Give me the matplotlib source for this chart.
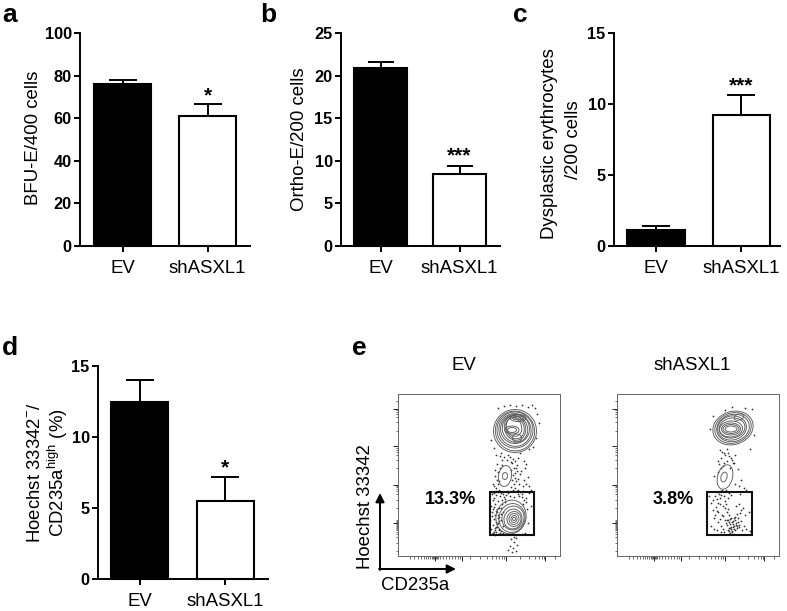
import matplotlib
matplotlib.use('Agg')
import matplotlib.pyplot as plt
from matplotlib.patches import Ellipse, Rectangle

plt.rcParams['font.family'] = ['Liberation Sans', 'DejaVu Sans']
plt.rcParams['mathtext.fontset'] = 'custom'
plt.rcParams['mathtext.rm'] = 'Liberation Sans'

W, H = 787, 611

groups = ['EV', 'shASXL1']

# bar panels
a_vals = [76, 61]
a_errs = [2, 5.7]
a_ticks = [0, 20, 40, 60, 80, 100]
b_vals = [20.9, 8.5]
b_errs = [0.75, 0.9]
b_ticks = [0, 5, 10, 15, 20, 25]
c_vals = [1.1, 9.2]
c_errs = [0.3, 1.4]
c_ticks = [0, 5, 10, 15]
d_vals = [12.5, 5.5]
d_errs = [1.5, 1.65]
d_ticks = [0, 5, 10, 15]

# flow plots: contours are (x, y, width, height, angle) in channel units
ev_rings = [
    (117, 125, 43, 43, 30), (117, 125, 39, 40, 30), (117, 126, 36, 36, 30),
    (117, 126, 32, 33, 30), (117, 127, 29, 29, 30), (117, 127, 25, 27, 30),
    (117, 128, 21, 25, 20), (117, 128, 18, 22, 20), (116, 129, 15, 19, 20),
    (120, 138, 16, 7, 0), (120, 138, 11, 4, 0), (114, 126, 14, 8, 0),
    (114, 126, 9, 5, 0), (119, 118, 9, 8, 0),
    (107, 80, 13, 21, -8), (107, 80, 5, 7, -8),
    (113, 39, 30, 34, -15), (114, 38, 26, 29, -15), (115, 38, 22, 24, -15),
    (115, 37, 18, 20, -15), (116, 37, 14, 15, -15), (116, 37, 10, 11, -15),
    (116, 37, 6, 7, -15), (116, 37, 3, 3, 0),
]
sh_rings = [
    (116, 128, 41, 33, 18), (116, 128, 37, 30, 18), (116, 128, 33, 27, 15),
    (115, 128, 29, 24, 12), (115, 128, 26, 20, 10), (114, 127, 23, 16, 5),
    (114, 127, 19, 12, 0), (114, 127, 16, 9, 0), (114, 127, 12, 6, 0),
    (122, 139, 10, 6, 20),
    (108, 79, 15, 25, -15), (107, 79, 6, 10, -15),
]
ev_dots_x = [100, 106, 112, 118, 124, 130, 134, 137, 139, 141, 138, 135, 131, 96, 93, 98, 102,
             104, 110, 115, 122, 128, 99, 97, 101, 96, 113, 118, 123, 126, 130, 133, 100, 117, 121, 127, 120, 125,
             94, 96, 98, 100, 102, 104, 93, 95, 97, 99, 101, 103, 94, 96, 98, 100, 95, 97, 99, 101, 93, 96, 99, 102, 94, 97,
             105, 107, 110, 93, 95, 98, 101, 105, 124, 128, 131, 133, 121, 130, 127,
             113, 118, 116, 112, 115, 119, 110, 114, 118, 116]
ev_dots_y = [148, 150, 151, 150, 151, 149, 151, 148, 142, 133, 118, 109, 107, 108, 116, 101, 100,
             96, 101, 97, 103, 92, 92, 86, 75, 70, 94, 88, 85, 95, 79, 66, 64, 78, 72, 88, 66, 70,
             62, 58, 61, 55, 60, 52, 50, 47, 52, 44, 48, 42, 40, 37, 34, 38, 31, 28, 32, 26, 27, 24, 29, 23, 22, 21,
             62, 57, 63, 64, 56, 45, 35, 30, 62, 58, 63, 50, 60, 33, 23,
             17, 18, 14, 10, 8, 11, 6, 4, 5, 19]
ev_more = [(103, 103), (106, 99), (109, 96), (112, 99), (114, 93), (117, 95), (120, 98), (119, 91), (116, 88),
           (113, 86), (115, 81), (117, 83), (119, 85), (122, 82), (114, 76), (116, 72), (118, 75), (120, 77),
           (113, 69), (115, 66), (117, 68), (119, 65), (97, 80), (99, 76), (100, 72), (98, 68), (101, 66),
           (103, 63), (100, 84), (102, 88), (104, 91), (95, 72), (96, 63), (98, 65), (126, 76), (128, 72),
           (131, 70), (125, 65), (122, 64), (110, 65), (108, 61), (106, 59), (104, 56), (107, 54), (103, 48),
           (105, 44), (101, 39), (103, 36), (100, 33), (98, 29), (101, 27), (103, 25), (97, 26), (95, 23),
           (98, 24), (100, 22), (102, 22), (105, 23), (92, 36), (94, 44), (96, 49), (97, 41), (99, 47), (100, 41),
           (126, 56), (128, 54), (125, 52), (129, 47), (112, 60), (116, 59), (120, 62), (124, 59), (118, 21), (124, 22)]
sh_dots_x = [108, 115, 128, 135, 96, 93, 137, 133, 103, 107, 110, 104, 112, 115, 118, 102, 106, 113, 116, 121, 97, 101,
             118, 122, 124, 127, 123, 129, 98, 96, 94, 102, 100, 104, 108, 106, 96, 99, 103, 101, 92, 105,
             108, 110, 112, 114, 116, 118, 120, 110, 112, 114, 116, 118, 120, 111, 113, 115, 117, 119, 108, 104, 106,
             122, 124, 126, 119, 121, 124, 128, 132, 101, 104, 97, 94, 113, 117, 122, 107, 110, 125, 133, 97, 100]
sh_dots_y = [146, 149, 148, 147, 140, 127, 121, 107, 106, 103, 107, 98, 100, 96, 101, 92, 90, 88, 93, 87, 80, 84,
             72, 70, 76, 68, 62, 66, 60, 56, 53, 62, 57, 61, 55, 50, 46, 49, 52, 44, 60, 41,
             48, 44, 41, 38, 35, 39, 42, 31, 34, 29, 32, 36, 30, 26, 28, 25, 27, 33, 36, 30, 27,
             52, 46, 48, 50, 38, 35, 41, 44, 34, 24, 27, 30, 23, 22, 29, 24, 36, 26, 25, 38, 26]
sh_more = [(105, 104), (108, 101), (111, 103), (114, 98), (117, 93), (110, 95), (107, 93), (104, 88), (101, 95),
           (109, 66), (112, 63), (105, 66), (103, 65), (100, 64), (114, 61), (111, 58), (107, 60), (103, 58),
           (113, 32), (115, 34), (117, 30), (119, 31), (112, 28), (114, 27), (116, 29), (118, 26), (120, 28),
           (111, 36), (113, 37), (117, 38), (109, 33), (121, 34), (122, 31), (115, 24), (112, 25), (106, 40),
           (103, 37), (100, 45), (109, 52), (111, 47), (101, 53), (98, 41), (127, 30), (129, 27), (123, 43)]
ev_label = '13.3%'
sh_label = '3.8%'

flow_x_major = [37, 64, 108, 147]
flow_x_minor = [12, 16, 20, 23, 26, 28, 30, 32, 34, 35, 36, 38, 39, 40, 42, 45, 48, 51, 54, 57, 60, 62,
                72, 82, 89, 94, 98, 101, 104, 106, 122, 131, 137, 141, 144, 146, 157]
flow_y_major = [33, 71, 110, 147]
flow_y_minor = [5, 13, 19, 22, 24, 26, 27, 28, 29, 30, 31, 32, 34, 35, 36, 48, 56, 62, 65, 67, 69, 70,
                88, 96, 101, 104, 106, 108, 125, 134, 139, 142, 144, 146, 155]


def px_axes(fig, left, right, top, bottom):
    return fig.add_axes([left / W, 1 - bottom / H, (right - left) / W, (bottom - top) / H])


def bar_panel(fig, box, xlim, vals, errs, ticks, width, capsize):
    ax = px_axes(fig, *box)
    ax.bar([0, 1], vals, width=width, color=['black', 'white'], edgecolor='black', linewidth=1.5)
    ax.errorbar([0, 1], vals, yerr=[[0, 0], errs], fmt='none', ecolor='black',
                elinewidth=1.4, capsize=capsize, capthick=1.4)
    ax.set_xlim(*xlim)
    ax.set_ylim(ticks[0], ticks[-1])
    ax.set_xticks([0, 1])
    ax.set_xticklabels(groups, fontsize=13.4)
    ax.set_yticks(ticks)
    ax.set_yticklabels([str(t) for t in ticks], fontsize=11.8, fontweight='bold')
    ax.spines['top'].set_visible(False)
    ax.spines['right'].set_visible(False)
    ax.spines['left'].set_linewidth(1.4)
    ax.spines['bottom'].set_linewidth(1.4)
    ax.tick_params(axis='both', width=1.4, length=4, pad=2)
    ax.tick_params(axis='x', pad=6)
    for b in ax.patches:
        b.set_clip_on(False)
    return ax


def flow_panel(fig, box, rings, xs, ys, more, gate):
    ax = px_axes(fig, *box)
    ax.scatter(xs + [p[0] for p in more], ys + [p[1] for p in more], s=1.6, color='#333333', linewidths=0)
    for x, y, w, h, ang in rings:
        ax.add_patch(Ellipse((x, y), w, h, angle=ang, fill=False, edgecolor='#5a5a5a', linewidth=0.65))
    ax.add_patch(Rectangle((gate[0], gate[2]), gate[1] - gate[0], gate[3] - gate[2],
                           fill=False, edgecolor='#111111', linewidth=1.5))
    ax.set_xlim(0, 162)
    ax.set_ylim(0, 162)
    ax.set_xticks(flow_x_major)
    ax.set_xticks(flow_x_minor, minor=True)
    ax.set_yticks(flow_y_major)
    ax.set_yticks(flow_y_minor, minor=True)
    ax.set_xticklabels([])
    ax.set_yticklabels([])
    ax.tick_params(which='major', length=3.5, width=0.7, color='#222222')
    ax.tick_params(which='minor', length=1.8, width=0.5, color='#333333')
    for s in ax.spines.values():
        s.set_linewidth(0.7)
        s.set_color('#666666')
    return ax


fig = plt.figure(figsize=(W / 100, H / 100), dpi=100)

bar_panel(fig, (80, 250, 33, 246), (-0.5, 1.5), a_vals, a_errs, a_ticks, 0.68, 10.4)
bar_panel(fig, (341, 500, 33, 246), (-0.5, 1.51), b_vals, b_errs, b_ticks, 0.67, 9.7)
bar_panel(fig, (614, 780, 33, 246), (-0.49, 1.45), c_vals, c_errs, c_ticks, 0.67, 10.4)
bar_panel(fig, (98, 268, 366, 579), (-0.49, 1.5), d_vals, d_errs, d_ticks, 0.67, 10.4)

flow_panel(fig, (398, 560, 394, 556), ev_rings, ev_dots_x, ev_dots_y, ev_more, (92, 136, 21, 64))
flow_panel(fig, (617, 779, 394, 556), sh_rings, sh_dots_x, sh_dots_y, sh_more, (90, 135, 21, 64))

# overlay in pixel coordinates for the free text and arrows
ov = fig.add_axes([0, 0, 1, 1], facecolor='none')
ov.set_xlim(0, W)
ov.set_ylim(H, 0)
ov.axis('off')

for s, x, y in [('a', 2, 22), ('b', 260, 22), ('c', 513, 22), ('d', 2, 355), ('e', 352, 355)]:
    ov.text(x, y, s, fontsize=19, fontweight='bold', va='baseline', ha='left')

for s, x, y in [('BFU-E/400 cells', 34, 138), ('Ortho-E/200 cells', 299, 139),
                ('Dysplastic erythrocytes', 550, 144), ('/200 cells', 574, 140),
                ('Hoechst 33342$^{-}$/', 36, 473), ('CD235a$^{\\mathrm{high}}$ (%)', 58, 473),
                ('Hoechst 33342', 365, 507)]:
    ov.text(x, y, s, fontsize=13.4, rotation=90, ha='center', va='center')

for s, x, y in [('*', 208, 96), ('***', 459.5, 156), ('***', 741, 86), ('*', 225, 468)]:
    ov.text(x, y, s, fontsize=15, fontweight='bold', ha='center', va='center')

ov.text(464, 366, 'EV', fontsize=13.4, ha='center', va='center')
ov.text(692, 366, 'shASXL1', fontsize=13.4, ha='center', va='center')
ov.text(451, 499, ev_label, fontsize=13, fontweight='bold', ha='center', va='center')
ov.text(673, 499, sh_label, fontsize=13, fontweight='bold', ha='center', va='center')
ov.text(415, 585, 'CD235a', fontsize=13.4, ha='center', va='center')

ov.annotate('', xy=(380, 493), xytext=(380, 570),
            arrowprops=dict(arrowstyle='-|>', color='black', lw=1.4, shrinkA=0, shrinkB=0, mutation_scale=13))
ov.annotate('', xy=(456, 569), xytext=(379, 569),
            arrowprops=dict(arrowstyle='-|>', color='black', lw=1.4, shrinkA=0, shrinkB=0, mutation_scale=13))

fig.savefig('out.png', dpi=100)
